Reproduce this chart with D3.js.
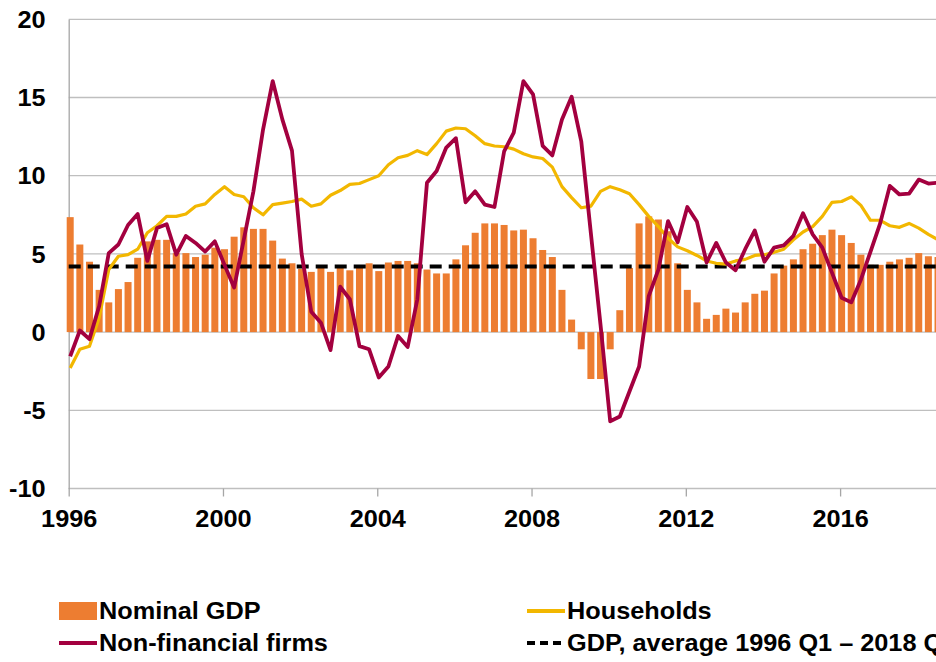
<!DOCTYPE html>
<html>
<head>
<meta charset="utf-8">
<script src="https://cdn.jsdelivr.net/npm/d3@7"></script>
<style>
  html, body { margin: 0; padding: 0; background: #fff; overflow: hidden; }
  svg text { font-family: "Liberation Sans", Arial, sans-serif; font-weight: bold; fill: #000; }
</style>
</head>
<body>
<div id="chart"></div>
<script>
// quarterly data, 1996 Q1 onwards (annual growth, per cent)
const startYear = 1996;
const gdp = [7.35, 5.6, 4.5, 2.7, 1.9, 2.75, 3.2, 4.75, 5.8, 5.9, 5.9, 5.05, 5.05, 4.8, 4.95, 5.4,
  5.3, 6.1, 6.7, 6.6, 6.6, 5.85, 4.7, 4.4, 4.05, 3.85, 4.1, 3.85, 4.25, 3.95, 4.2, 4.4,
  3.9, 4.45, 4.55, 4.55, 4.4, 4.0, 3.75, 3.75, 4.65, 5.55, 6.35, 6.95, 6.95, 6.85, 6.5, 6.55,
  6.0, 5.25, 4.8, 2.7, 0.8, -1.1, -3.0, -3.0, -1.1, 1.4, 4.1, 6.95, 7.4, 7.2, 6.45, 4.4,
  2.7, 1.9, 0.85, 1.1, 1.5, 1.25, 1.9, 2.45, 2.65, 3.75, 4.25, 4.65, 5.3, 5.65, 6.2, 6.55,
  6.2, 5.7, 4.95, 4.3, 4.3, 4.5, 4.65, 4.75, 5.05, 4.85, 4.8];
const households = [-2.3, -1.1, -0.9, 0.9, 4.0, 4.85, 4.95, 5.3, 6.35, 6.8, 7.4, 7.4, 7.55, 8.05, 8.2, 8.8,
  9.3, 8.8, 8.65, 7.95, 7.5, 8.15, 8.25, 8.35, 8.5, 8.05, 8.2, 8.75, 9.05, 9.45, 9.5, 9.75,
  10.0, 10.7, 11.15, 11.3, 11.6, 11.35, 12.05, 12.85, 13.05, 13.0, 12.55, 12.05, 11.9, 11.85, 11.7, 11.4,
  11.2, 11.1, 10.55, 9.3, 8.6, 7.95, 8.05, 9.0, 9.3, 9.1, 8.85, 8.15, 7.4, 6.75, 6.0, 5.45,
  5.2, 4.9, 4.55, 4.4, 4.35, 4.55, 4.65, 4.9, 4.95, 5.1, 5.3, 5.9, 6.4, 6.75, 7.4, 8.3,
  8.35, 8.65, 8.1, 7.15, 7.15, 6.8, 6.7, 6.95, 6.65, 6.25, 5.9];
const firms = [-1.55, 0.1, -0.45, 1.65, 5.05, 5.6, 6.85, 7.55, 4.55, 6.65, 6.9, 4.95, 6.15, 5.7, 5.15, 5.8,
  4.3, 2.85, 5.9, 9.0, 12.95, 16.05, 13.6, 11.6, 5.0, 1.3, 0.6, -1.15, 2.9, 2.1, -0.9, -1.1,
  -2.9, -2.2, -0.25, -0.95, 2.1, 9.55, 10.3, 11.8, 12.4, 8.3, 9.0, 8.15, 8.0, 11.55, 12.75, 16.05,
  15.2, 11.9, 11.3, 13.6, 15.05, 12.2, 6.3, 0.45, -5.7, -5.4, -3.8, -2.2, 2.3, 4.0, 7.1, 5.75,
  8.0, 7.05, 4.45, 5.7, 4.45, 3.95, 5.3, 6.5, 4.5, 5.4, 5.55, 6.15, 7.6, 6.25, 5.4, 3.8,
  2.2, 1.9, 3.35, 5.15, 6.95, 9.35, 8.8, 8.85, 9.75, 9.5, 9.55];
const gdpAverage = 4.2;
const yTicks = [-10, -5, 0, 5, 10, 15, 20];
const xTicks = [1996, 2000, 2004, 2008, 2012, 2016];
const legendLabels = ["Nominal GDP", "Non-financial firms", "Households", "GDP, average 1996 Q1 \u2013 2018 Q3"];

const colours = { gdp: "#ed7d31", households: "#f2b700", firms: "#a3003f", avg: "#000" };

const width = 936, height = 662;
const fontSize = "23px";
const stretch = "scale(1.1,1)"; // the reference text is a little wider than Arial
const quarters = gdp.map((d, i) => startYear + i / 4);

const svg = d3.select("#chart").append("svg")
  .attr("width", width)
  .attr("height", height);

// scales
const x = d3.scaleLinear().domain([1996, 2019]).range([68.7, 68.7 + 23 * 38.57]);
const y = d3.scaleLinear().domain([-10, 20]).range([488.5, 19.3]);
const barW = 7;

// gridlines
svg.append("g")
  .selectAll("line")
  .data(yTicks)
  .enter().append("line")
  .attr("x1", x(1996)).attr("x2", width)
  .attr("y1", d => y(d)).attr("y2", d => y(d))
  .attr("stroke", "#bfbfbf").attr("stroke-width", 1.3);

// y axis
const yAxis = svg.append("g")
  .attr("transform", `translate(${x(1996)},0)`)
  .call(d3.axisLeft(y).tickValues(yTicks).tickFormat(d => String(d)).tickSize(0).tickPadding(21));
yAxis.select(".domain").attr("stroke", "#a6a6a6").attr("stroke-width", 1.3);
yAxis.selectAll("text").style("font-size", fontSize).attr("dy", "0.36em").attr("transform", stretch);

// x axis
const xAxis = svg.append("g")
  .attr("transform", `translate(0,${y(-10)})`)
  .call(d3.axisBottom(x).tickValues(xTicks).tickFormat(d3.format("d")).tickSize(8).tickPadding(14));
xAxis.select(".domain").remove();
xAxis.selectAll("line").attr("stroke", "#a6a6a6").attr("stroke-width", 1.3);
xAxis.selectAll("text").style("font-size", fontSize).attr("transform", stretch);

// bars
svg.append("g")
  .selectAll("rect")
  .data(gdp)
  .enter().append("rect")
  .attr("x", (d, i) => x(quarters[i]) - barW / 2 + 1.5)
  .attr("y", d => y(Math.max(0, d)))
  .attr("width", barW)
  .attr("height", d => Math.abs(y(d) - y(0)))
  .attr("fill", colours.gdp);

// average line
svg.append("line")
  .attr("x1", x(1996)).attr("x2", width)
  .attr("y1", y(gdpAverage)).attr("y2", y(gdpAverage))
  .attr("stroke", colours.avg).attr("stroke-width", 4)
  .attr("stroke-dasharray", "12,7");

const line = d3.line()
  .x((d, i) => x(quarters[i]) + 1.5)
  .y(d => y(d));

svg.append("path")
  .datum(households)
  .attr("d", line)
  .attr("fill", "none")
  .attr("stroke", colours.households)
  .attr("stroke-width", 3.2)
  .attr("stroke-linejoin", "round");

svg.append("path")
  .datum(firms)
  .attr("d", line)
  .attr("fill", "none")
  .attr("stroke", colours.firms)
  .attr("stroke-width", 3.8)
  .attr("stroke-linejoin", "round");

// legend
const legendItems = [
  { label: legendLabels[0], type: "rect", colour: colours.gdp, col: 0, row: 0 },
  { label: legendLabels[1], type: "line", colour: colours.firms, col: 0, row: 1 },
  { label: legendLabels[2], type: "line", colour: colours.households, col: 1, row: 0 },
  { label: legendLabels[3], type: "dash", colour: colours.avg, col: 1, row: 1 }
];
const legend = svg.append("g");
const item = legend.selectAll("g")
  .data(legendItems)
  .enter().append("g")
  .attr("transform", d => `translate(${d.col ? 527 : 59},${d.row ? 643 : 611})`);

item.filter(d => d.type === "rect").append("rect")
  .attr("x", 0).attr("y", -9).attr("width", 38).attr("height", 18)
  .attr("fill", d => d.colour);
item.filter(d => d.type === "line").append("line")
  .attr("x1", 0).attr("x2", 38)
  .attr("stroke", d => d.colour).attr("stroke-width", 3.8);
item.filter(d => d.type === "dash").append("line")
  .attr("x1", 0).attr("x2", 38)
  .attr("stroke", d => d.colour).attr("stroke-width", 3.8)
  .attr("stroke-dasharray", "8,5");
item.append("text")
  .attr("transform", "translate(40,0) " + stretch)
  .attr("dy", "0.36em")
  .style("font-size", fontSize)
  .text(d => d.label);
</script>
</body>
</html>
